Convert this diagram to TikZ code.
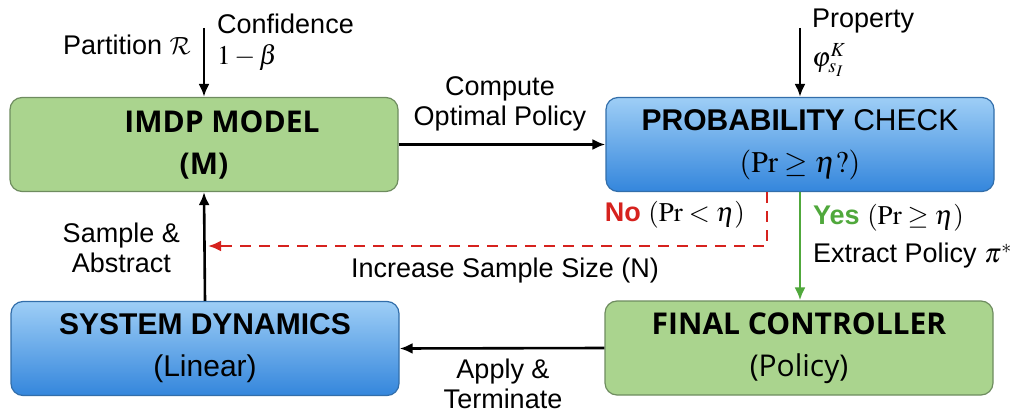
\documentclass[tikz,border=0pt]{standalone}
\usepackage{mathptmx}
\usepackage[no-math]{fontspec}
\setmainfont{Liberation Sans}
\newfontfamily\titlefont{Open Sans}
\DeclareMathAlphabet{\mathcmcal}{OMS}{cmsy}{m}{n}
\usetikzlibrary{arrows.meta,calc}

\definecolor{boxgreen}{RGB}{170,212,142}
\definecolor{greenedge}{RGB}{110,140,95}
\definecolor{bluetop}{RGB}{158,206,246}
\definecolor{bluebot}{RGB}{52,134,220}
\definecolor{blueedge}{RGB}{50,110,170}
\definecolor{nored}{RGB}{214,34,30}
\definecolor{yesgreen}{RGB}{80,168,60}

\tikzset{
  box/.style={rounded corners=12pt, line width=1.2pt, minimum width=388pt,
    minimum height=94pt, align=center, inner sep=0pt,
    font=\fontsize{30}{42}\selectfont},
  greenbox/.style={box, draw=greenedge, fill=boxgreen},
  bluebox/.style={box, draw=blueedge, top color=bluetop, bottom color=bluebot},
  lbl/.style={font=\fontsize{27}{30}\selectfont, inner sep=0pt},
  flow/.style={line width=2.6pt, -{Latex[length=13pt,width=11pt]}},
  nodash/.style={line width=2.8pt, draw=nored, dash pattern=on 11pt off 8pt,
    -{Latex[length=13pt,width=11pt]}},
  yesflow/.style={flow, draw=yesgreen},
}

\begin{document}
\begin{tikzpicture}[x=1pt,y=-1pt]
\useasboundingbox (0,0) rectangle (1019,414);

% the four blocks of the loop
\node[greenbox] (imdp) at (204,144.5)
  {\hspace*{36pt}{\titlefont\bfseries IMDP MODEL}\\{\titlefont\bfseries (M)}};
\node[bluebox] (prob) at (800,144.5)
  {\textbf{PROBABILITY} CHECK\\$(\Pr\geq\eta?)$};
\node[bluebox] (sd) at (205,348.5)
  {\textbf{SYSTEM DYNAMICS}\\(Linear)};
\node[greenbox] (fc) at (799,348)
  {{\titlefont\bfseries FINAL CONTROLLER}\\{\titlefont (Policy)}};

% external inputs
\coordinate (inA) at (204,28);
\coordinate (inB) at (800,28);
\draw[flow] (inA) -- (imdp.north);
\draw[flow] (inB) -- (prob.north);

\node[lbl, anchor=east] (part) at (191,45) {Partition $\mathcmcal{R}$};
\node[lbl, anchor=west] (conf) at (217,24) {Confidence};
\node[lbl, anchor=west] (beta) at (217,57) {$1-\beta$};
\node[lbl, anchor=west] (prop) at (812,21) {Property};
\node[lbl, anchor=west] (phi) at (812,60) {$\varphi^{K}_{s_I}$};

% main transitions
\draw[flow] (imdp.east) -- (prob.west);
\node[lbl, align=center] (cop) at (500,104) {Compute\\Optimal Policy};

\draw[flow] (sd.north) -- (imdp.south);
\node[lbl, anchor=east, align=center] (sab) at (180,248) {Sample \&\\Abstract};

\draw[yesflow] (prob.south) -- (prob.south |- fc.north);
\node[lbl, anchor=west] (yes) at (813,218)
  {{\color{yesgreen}\textbf{Yes}} $(\Pr\geq\eta)$};
\node[lbl, anchor=west] (extr) at (813,256) {Extract Policy $\pi^{*}$};

\coordinate (turn) at (767,246);
\draw[nodash] (prob.south -| turn) -- (turn) -- ($(turn -| sd.north)+(3,0)$);
\node[lbl, anchor=east] (no) at (745,215)
  {{\color{nored}\textbf{No}} $(\Pr<\eta)$};
\node[lbl] (inc) at (505,271) {Increase Sample Size (N)};

\draw[flow] (fc.west) -- (sd.east);
\node[lbl, align=center] (apt) at (503,384) {Apply \&\\Terminate};
\end{tikzpicture}
\end{document}
